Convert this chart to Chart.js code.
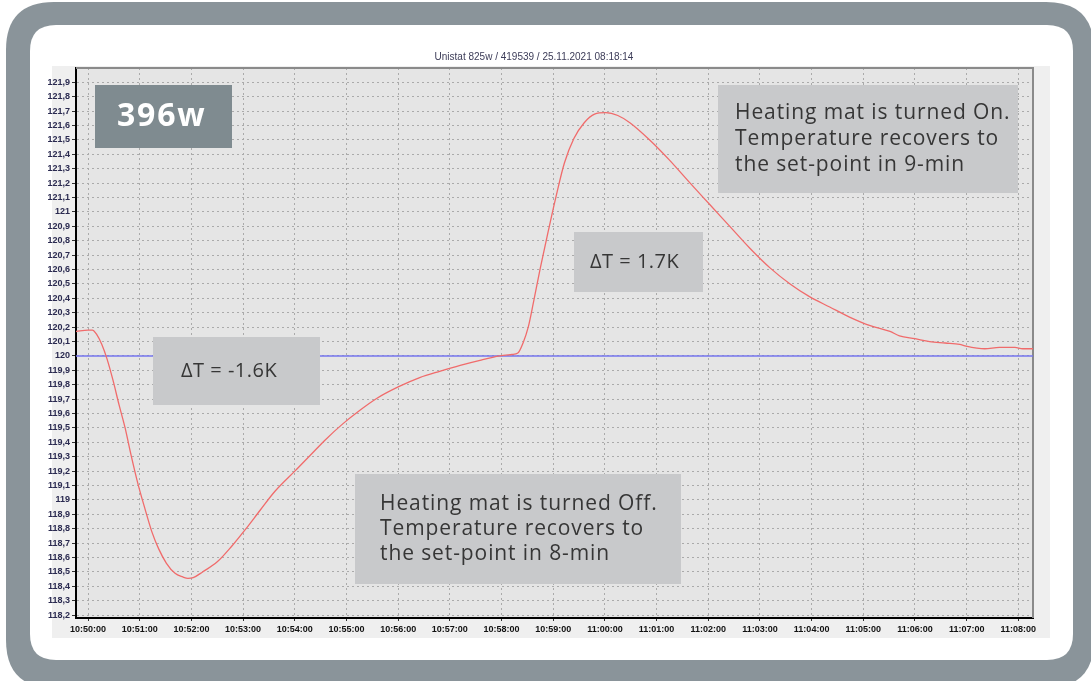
<!DOCTYPE html>
<html>
<head>
<meta charset="utf-8">
<script src="https://cdn.jsdelivr.net/npm/chart.js@4.4.0/dist/chart.umd.min.js"></script>
<style>
  html, body { margin: 0; padding: 0; background: #ffffff; }
  #wrap { width: 1091px; height: 681px; position: relative; }
  canvas { display: block; }
</style>
</head>
<body>
<div id="wrap"><canvas id="chart" width="1091" height="681"></canvas></div>
<script>
// ---- data ----
const chartTitle = 'Unistat 825w / 419539 / 25.11.2021 08:18:14';

// bath temperature log (clock time, °C)
const sampleTimes = [
  '10:49:46','10:50:00','10:50:05','10:50:10','10:50:16','10:50:22','10:50:29','10:50:36',
  '10:50:43','10:50:50','10:50:58','10:51:06','10:51:14','10:51:22','10:51:31','10:51:41',
  '10:51:50','10:51:56','10:52:02','10:52:13','10:52:30','10:52:47','10:53:02','10:53:20',
  '10:53:37','10:54:00','10:54:18','10:54:35','10:54:56','10:55:16','10:55:35','10:56:00',
  '10:56:25','10:56:49','10:57:12','10:57:35','10:57:58','10:58:12','10:58:19','10:58:25',
  '10:58:31','10:58:37','10:58:45','10:58:54','10:59:03','10:59:13','10:59:24','10:59:36',
  '10:59:48','11:00:01','11:00:15','11:00:29','11:00:52','11:01:15','11:01:39','11:02:02',
  '11:02:25','11:02:48','11:03:12','11:03:35','11:03:58','11:04:21','11:04:44','11:05:08',
  '11:05:31','11:05:42','11:06:00','11:06:17','11:06:35','11:06:52','11:06:58','11:07:21',
  '11:07:38','11:07:56','11:08:05','11:08:17'
];
const bathTemps = [
  120.17, 120.18, 120.18, 120.15, 120.08, 119.98, 119.83, 119.66,
  119.50, 119.31, 119.11, 118.94, 118.78, 118.66, 118.56, 118.49,
  118.465, 118.455, 118.46, 118.50, 118.57, 118.68, 118.79, 118.93,
  119.06, 119.20, 119.31, 119.415, 119.53, 119.625, 119.705, 119.785,
  119.85, 119.895, 119.935, 119.97, 120.00, 120.01, 120.02, 120.09,
  120.20, 120.37, 120.61, 120.86, 121.10, 121.34, 121.51, 121.62,
  121.68, 121.69, 121.67, 121.62, 121.50, 121.36, 121.20, 121.05,
  120.90, 120.75, 120.61, 120.50, 120.41, 120.34, 120.27, 120.21,
  120.17, 120.14, 120.12, 120.10, 120.09, 120.08, 120.07, 120.05,
  120.06, 120.06, 120.05, 120.05
];

// set-point line
const setpointTimes = ['10:49:46', '11:08:17'];
const setpointTemps = [120, 120];

// axes
const xAxisStart = '10:49:46';
const xAxisEnd = '11:08:17';
const xTickLabels = [
  '10:50:00','10:51:00','10:52:00','10:53:00','10:54:00','10:55:00','10:56:00',
  '10:57:00','10:58:00','10:59:00','11:00:00','11:01:00','11:02:00','11:03:00',
  '11:04:00','11:05:00','11:06:00','11:07:00','11:08:00'
];
const yAxisMin = 118.18;
const yAxisMax = 122.0;
const yTickValues = [
  118.2,118.3,118.4,118.5,118.6,118.7,118.8,118.9,119.0,119.1,119.2,119.3,119.4,
  119.5,119.6,119.7,119.8,119.9,120.0,120.1,120.2,120.3,120.4,120.5,120.6,120.7,
  120.8,120.9,121.0,121.1,121.2,121.3,121.4,121.5,121.6,121.7,121.8,121.9
];

// text notes laid over the plot
const notes = [
  { x: 95,  y: 85,  w: 137, h: 63,  fill: '#7f8b90', color: '#ffffff',
    font: 'bold 32px "Open Sans"', spacing: '1.8px', lines: ['396w'], lineGap: 0, pad: 22 },
  { x: 153, y: 337, w: 167, h: 68,  fill: '#c8c9cb', color: '#363636',
    font: '20px "Open Sans"', spacing: '0.5px', lines: ['\u0394T = -1.6K'], lineGap: 0, pad: 28 },
  { x: 574, y: 232, w: 129, h: 60,  fill: '#c8c9cb', color: '#363636',
    font: '20px "Open Sans"', spacing: '0.5px', lines: ['\u0394T = 1.7K'], lineGap: 0, pad: 16 },
  { x: 718, y: 85,  w: 300, h: 108, fill: '#c8c9cb', color: '#363636',
    font: '21px "Open Sans"', spacing: '0.9px',
    lines: ['Heating mat is turned On.', 'Temperature recovers to', 'the set-point in 9-min'],
    lineGap: 26, pad: 17 },
  { x: 355, y: 474, w: 326, h: 110, fill: '#c8c9cb', color: '#363636',
    font: '21px "Open Sans"', spacing: '0.9px',
    lines: ['Heating mat is turned Off.', 'Temperature recovers to', 'the set-point in 8-min'],
    lineGap: 25, pad: 25 }
];

// ---- helpers ----
function toSec(t) {
  const [h, m, s] = t.split(':').map(Number);
  return h * 3600 + m * 60 + s;
}
function toClock(sec) {
  const h = Math.floor(sec / 3600), m = Math.floor((sec % 3600) / 60), s = Math.round(sec % 60);
  const p = n => String(n).padStart(2, '0');
  return p(h) + ':' + p(m) + ':' + p(s);
}
function fmtTemp(v) {
  const r = Math.round(v * 10) / 10;
  if (Math.abs(r - Math.round(r)) < 1e-9) return String(Math.round(r));
  return r.toFixed(1).replace('.', ',');
}
function roundRectPath(ctx, x, y, w, h, r) {
  ctx.beginPath();
  ctx.moveTo(x + r, y);
  ctx.lineTo(x + w - r, y);
  ctx.quadraticCurveTo(x + w, y, x + w, y + r);
  ctx.lineTo(x + w, y + h - r);
  ctx.quadraticCurveTo(x + w, y + h, x + w - r, y + h);
  ctx.lineTo(x + r, y + h);
  ctx.quadraticCurveTo(x, y + h, x, y + h - r);
  ctx.lineTo(x, y + r);
  ctx.quadraticCurveTo(x, y, x + r, y);
  ctx.closePath();
}

// ---- frame, panel, title and notes ----
const decor = {
  id: 'decor',
  beforeDraw(chart) {
    const ctx = chart.ctx, a = chart.chartArea;
    ctx.save();
    ctx.fillStyle = '#ffffff';
    ctx.fillRect(0, 0, chart.width, chart.height);
    // rounded slate frame
    roundRectPath(ctx, 6, 2, 1088, 686, 48);
    ctx.fillStyle = '#8a949a';
    ctx.fill();
    roundRectPath(ctx, 30, 25, 1043, 635, 26);
    ctx.fillStyle = '#ffffff';
    ctx.fill();
    // trend-window panel
    ctx.fillStyle = '#efefef';
    ctx.fillRect(52, 66, 998, 572);
    // title
    ctx.fillStyle = '#3c3c58';
    ctx.font = '10px "Liberation Sans", Arial, sans-serif';
    ctx.textAlign = 'center';
    ctx.textBaseline = 'middle';
    ctx.fillText(chartTitle, 534, 57);
    // plot background
    ctx.fillStyle = '#e5e5e5';
    ctx.fillRect(a.left, a.top, a.right - a.left, a.bottom - a.top);
    ctx.restore();
  },
  beforeDatasetsDraw(chart) {
    const ctx = chart.ctx, a = chart.chartArea;
    ctx.save();
    ctx.strokeStyle = '#8a8a8a';
    ctx.lineWidth = 2;
    ctx.beginPath();
    ctx.moveTo(a.left, a.top);
    ctx.lineTo(a.right, a.top);
    ctx.lineTo(a.right, a.bottom);
    ctx.stroke();
    ctx.restore();
  },
  afterDraw(chart) {
    const ctx = chart.ctx;
    ctx.save();
    notes.forEach(n => {
      ctx.fillStyle = n.fill;
      ctx.fillRect(n.x, n.y, n.w, n.h);
      ctx.fillStyle = n.color;
      ctx.font = n.font;
      if ('letterSpacing' in ctx) ctx.letterSpacing = n.spacing;
      ctx.textAlign = 'left';
      ctx.textBaseline = 'middle';
      const cy = n.y + n.h / 2;
      const first = cy - (n.lines.length - 1) * n.lineGap / 2;
      n.lines.forEach((s, i) => ctx.fillText(s, n.x + n.pad, first + i * n.lineGap));
    });
    if ('letterSpacing' in ctx) ctx.letterSpacing = '0px';
    ctx.restore();
  }
};

// ---- chart ----
new Chart(document.getElementById('chart'), {
  type: 'line',
  data: {
    datasets: [
      {
        label: 'Temperature',
        data: sampleTimes.map((t, i) => ({ x: toSec(t), y: bathTemps[i] })),
        borderColor: '#f06b6b',
        borderWidth: 1.3,
        pointRadius: 0,
        cubicInterpolationMode: 'monotone',
        fill: false,
        order: 0
      },
      {
        label: 'Set-point',
        data: setpointTimes.map((t, i) => ({ x: toSec(t), y: setpointTemps[i] })),
        borderColor: '#7474ee',
        borderWidth: 1.5,
        pointRadius: 0,
        fill: false,
        order: 1
      }
    ]
  },
  options: {
    responsive: false,
    animation: false,
    devicePixelRatio: 1,
    layout: { padding: { left: 0, top: 68, right: 58, bottom: 41 } },
    plugins: { legend: { display: false }, tooltip: { enabled: false }, title: { display: false } },
    scales: {
      x: {
        type: 'linear',
        min: toSec(xAxisStart),
        max: toSec(xAxisEnd),
        afterBuildTicks: s => { s.ticks = xTickLabels.map(t => ({ value: toSec(t) })); },
        afterFit: s => { s.height = 22; },
        grid: { color: '#aaaaaa', lineWidth: 1, tickLength: 3, tickColor: '#333333' },
        border: { display: true, color: '#000000', width: 2, dash: [2, 3] },
        ticks: {
          autoSkip: false, maxRotation: 0, padding: 3, color: '#111111',
          font: { family: '"Liberation Sans", Arial, sans-serif', size: 9, weight: 'bold' },
          callback: v => toClock(v)
        }
      },
      y: {
        type: 'linear',
        min: yAxisMin,
        max: yAxisMax,
        afterBuildTicks: s => { s.ticks = yTickValues.map(v => ({ value: v })); },
        afterFit: s => { s.width = 76; },
        grid: { color: '#aaaaaa', lineWidth: 1, tickLength: 4, tickColor: '#333333' },
        border: { display: true, color: '#000000', width: 2, dash: [2, 3] },
        ticks: {
          autoSkip: false, padding: 2, color: '#2a2a50',
          font: { family: '"Liberation Sans", Arial, sans-serif', size: 9, weight: 'bold' },
          callback: v => fmtTemp(v)
        }
      }
    }
  },
  plugins: [decor]
});
</script>
</body>
</html>
